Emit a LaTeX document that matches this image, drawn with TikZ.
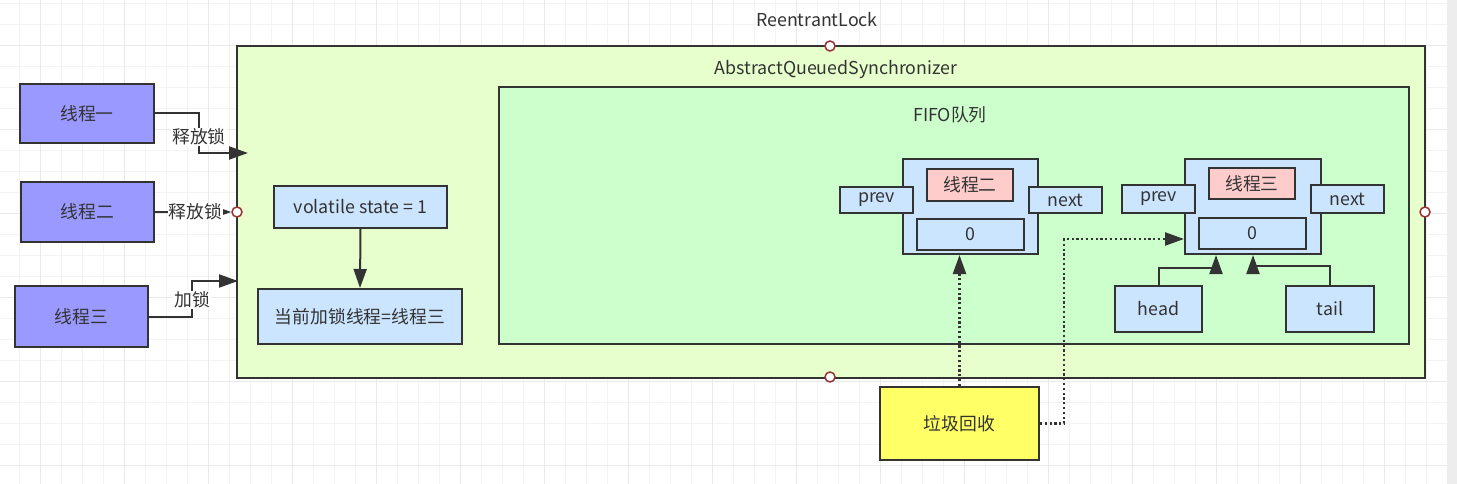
\documentclass[tikz,border=0pt]{standalone}
\usepackage{fontspec}
\setmainfont{Noto Sans CJK SC}
\usetikzlibrary{arrows.meta}
\definecolor{ln}{HTML}{333333}
\definecolor{aqsfill}{HTML}{E6FFCC}
\definecolor{fifofill}{HTML}{CCFFCC}
\definecolor{thrfill}{HTML}{9999FF}
\definecolor{bluefill}{HTML}{CCE5FF}
\definecolor{pinkfill}{HTML}{FFCCCC}
\definecolor{yelfill}{HTML}{FFFF66}
\definecolor{portc}{HTML}{993333}
\definecolor{gridminor}{HTML}{F3F3F3}
\definecolor{gridmajor}{HTML}{E9E9E9}
\definecolor{stripc}{HTML}{EDEDED}
\begin{document}
\begin{tikzpicture}[x=1pt,y=-1pt,
  every node/.style={text=ln, font=\fontsize{17.8}{21}\selectfont},
  box/.style={draw=ln, line width=2pt, rectangle, inner sep=0pt},
  arr/.style={draw=ln, line width=2pt, -{Triangle[length=19pt,width=13pt]}},
  dotarr/.style={arr, line width=2.4pt, dash pattern=on 2.2pt off 2.6pt},
  port/.style={circle, draw=portc, fill=white, line width=1.5pt, minimum size=10pt, inner sep=0pt},
  lbl/.style={fill=white, inner sep=1pt}]
\useasboundingbox (0,0) rectangle (1457,484);
\fill[white] (0,0) rectangle (1457,484);
% grid
\foreach \i in {0,...,68} \draw[gridminor, line width=1pt] ({19.7+21*\i},0) -- ({19.7+21*\i},484);
\foreach \j in {0,...,22} \draw[gridminor, line width=1pt] (0,{3.7+21*\j}) -- (1447,{3.7+21*\j});
\foreach \i in {1,5,...,65} \draw[gridmajor, line width=1pt] ({19.7+21*\i},0) -- ({19.7+21*\i},484);
\foreach \j in {2,6,...,22} \draw[gridmajor, line width=1pt] (0,{3.7+21*\j}) -- (1447,{3.7+21*\j});
\fill[stripc] (1447,0) rectangle (1457,484);

% containers
\node (rl) at (817,20) {ReentrantLock};
\node[box, fill=aqsfill, minimum width=1188pt, minimum height=332pt] (aqs) at (831,212) {};
\node (aqsl) at (836,69) {AbstractQueuedSynchronizer};
\node[box, fill=fifofill, minimum width=910pt, minimum height=257pt] (fifo) at (954,215.5) {};
\node (fifol) at (950,115) {FIFO队列};

% ports
\node[port] (p1) at (830,46) {};
\node[port] (p2) at (237,212) {};
\node[port] (p3) at (1425,212) {};
\node[port] (p4) at (830,377) {};

% threads
\node[box, fill=thrfill, minimum width=134pt, minimum height=59pt] (t1) at (87,113.5) {线程一};
\node[box, fill=thrfill, minimum width=133pt, minimum height=60pt] (t2) at (87.5,212) {线程二};
\node[box, fill=thrfill, minimum width=133pt, minimum height=61pt] (t3) at (81.5,316.5) {线程三};

% state
\node[box, fill=bluefill, minimum width=173pt, minimum height=42pt] (vs) at (360.5,207) {volatile state = 1};
\node[box, fill=bluefill, minimum width=204pt, minimum height=55pt] (cur) at (360,316.5) {当前加锁线程=线程三};

% queue node 2
\node[box, fill=bluefill, minimum width=135pt, minimum height=95pt] (n2) at (970.5,206.5) {};
\node[box, fill=pinkfill, minimum width=86pt, minimum height=32pt] (n2t) at (970,185) {线程二};
\node[box, fill=bluefill, minimum width=73pt, minimum height=26pt] (n2p) at (876.5,200) {prev};
\node[box, fill=bluefill, minimum width=73pt, minimum height=26pt] (n2n) at (1065.5,200) {next};
\node[box, fill=bluefill, minimum width=107pt, minimum height=31pt] (n2z) at (970.5,234.5) {0};

% queue node 3
\node[box, fill=bluefill, minimum width=136pt, minimum height=95pt] (n3) at (1253,206.5) {};
\node[box, fill=pinkfill, minimum width=86pt, minimum height=31pt] (n3t) at (1252,183.5) {线程三};
\node[box, fill=bluefill, minimum width=73pt, minimum height=28pt] (n3p) at (1158.5,199) {prev};
\node[box, fill=bluefill, minimum width=73pt, minimum height=28pt] (n3n) at (1347.5,199) {next};
\node[box, fill=bluefill, minimum width=107pt, minimum height=31pt] (n3z) at (1252.5,233.5) {0};

\node[box, fill=bluefill, minimum width=87pt, minimum height=46pt] (head) at (1158.5,309) {head};
\node[box, fill=bluefill, minimum width=88pt, minimum height=46pt] (tail) at (1330,309) {tail};

\node[box, fill=yelfill, minimum width=159pt, minimum height=73pt] (gc) at (959.5,423.5) {垃圾回收};

% connectors
\coordinate (a1) at (248,153);
\coordinate (a3) at (238,281);
\draw[arr] (t1.east) -- (199,113.5) -- node[lbl, pos=0.6] {释放锁} (199,153) -- (a1);
\draw[arr] (t2.east) -- node[lbl, pos=0.53] {释放锁} (p2.west);
\draw[arr] (t3.east) -- (192,316.5) -- node[lbl, pos=0.46] {加锁} (192,281) -- (a3);
\draw[arr] (vs.south) -- (cur.north);
\draw[arr] (head.north) -- (head.north |- 0,268) -| (1216,255);
\draw[arr] (tail.north) -- (tail.north |- 0,266) -| (1253,255);
\draw[dotarr] (gc.north) -- (gc.north |- n2.south);
\draw[dotarr] (gc.east) -| (1064,239) -- (n3.west |- 0,239);
\end{tikzpicture}
\end{document}
